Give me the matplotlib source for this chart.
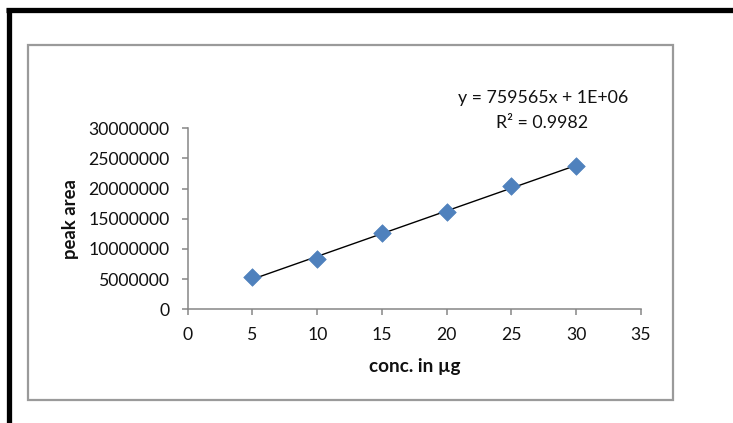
import numpy as np
import matplotlib
matplotlib.use("Agg")
import matplotlib.pyplot as plt
from matplotlib.patches import Rectangle
from matplotlib.lines import Line2D

plt.rcParams['font.family'] = ['Lato', 'DejaVu Sans']

# Data
conc = [5, 10, 15, 20, 25, 30]
peak_area = [5300000, 8330000, 12580000, 16160000, 20460000, 23730000]
x_ticks = [0, 5, 10, 15, 20, 25, 30, 35]
y_ticks = [0, 5000000, 10000000, 15000000, 20000000, 25000000, 30000000]
eq_text = "y = 759565x + 1E+06"
r2_text = "R² = 0.9982"
x_label = "conc. in µg"
y_label = "peak area"

W, H = 733, 423
fig = plt.figure(figsize=(W / 100, H / 100), dpi=100)
fig.patch.set_facecolor('white')

# chart border (gray) and outer black frame
fig.add_artist(Rectangle((28 / W, 1 - 400 / H), (673 - 28) / W, (400 - 45) / H,
                         transform=fig.transFigure, fill=False,
                         edgecolor='#9a9a9a', linewidth=1.6))
fig.add_artist(Line2D([6 / W, 1.0], [1 - 10.5 / H, 1 - 10.5 / H],
                      transform=fig.transFigure, color='black', linewidth=3.8,
                      solid_capstyle='butt'))
fig.add_artist(Line2D([8.5 / W, 8.5 / W], [1 - 8 / H, 0.0],
                      transform=fig.transFigure, color='black', linewidth=3.8,
                      solid_capstyle='butt'))

left, right = 187.7 / W, 641 / W
bottom, top = 1 - 309.3 / H, 1 - 128.3 / H
ax = fig.add_axes([left, bottom, right - left, top - bottom])

ax.set_xlim(0, 35)
ax.set_ylim(0, 30000000)
ax.set_xticks(x_ticks)
ax.set_yticks(y_ticks)
ax.set_xticklabels([str(v) for v in x_ticks])
ax.set_yticklabels([str(v) for v in y_ticks])

txt = '#111111'
for s in ['top', 'right']:
    ax.spines[s].set_visible(False)
for s in ['left', 'bottom']:
    ax.spines[s].set_color('#868686')
    ax.spines[s].set_linewidth(1.1)
ax.tick_params(axis='both', direction='out', length=4, width=1.1, color='#868686',
               labelsize=12.7, labelcolor=txt)
ax.tick_params(axis='y', pad=9)
ax.tick_params(axis='x', pad=9)

# trendline
coef = np.polyfit(conc, peak_area, 1)
xs = np.array([conc[0], conc[-1]])
ax.plot(xs, np.polyval(coef, xs), color='black', linewidth=1.0, zorder=2)

ax.scatter(conc, peak_area, marker='D', s=80, color='#4F81BD', edgecolors='#4F81BD',
           linewidths=0.5, zorder=3)

ax.text((543 - 187.7) / 453.3, (309.3 - 98) / 181, eq_text, transform=ax.transAxes,
        ha='center', va='center', fontsize=12.8, color=txt)
ax.text((542.5 - 187.7) / 453.3, (309.3 - 122.7) / 181, r2_text, transform=ax.transAxes,
        ha='center', va='center', fontsize=12.8, color=txt)

ax.set_xlabel(x_label, fontsize=13.6, fontweight='bold', color=txt)
ax.set_ylabel(y_label, fontsize=13.3, fontweight='bold', color=txt)
ax.xaxis.set_label_coords((415 - 187.7) / 453.3, (309.3 - 366) / 181)
ax.xaxis.label.set_va('center')
ax.yaxis.set_label_coords((70 - 187.7) / 453.3, 0.5)
ax.yaxis.label.set_va('center')

fig.savefig('out.png', dpi=100, facecolor='white')
